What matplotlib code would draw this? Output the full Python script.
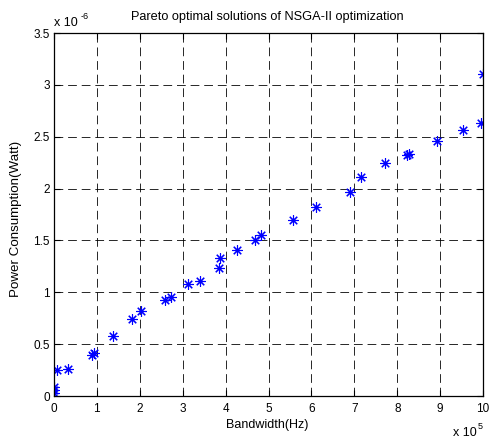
import numpy as np
import matplotlib.pyplot as plt
from matplotlib.ticker import FuncFormatter

plt.rcParams['font.family'] = ['Liberation Sans', 'DejaVu Sans']

# Pareto front: bandwidth (x 1e5 Hz) vs power (x 1e-6 W)
bandwidth = [0.0, 0.0, 0.0, 0.08, 0.33, 0.89, 0.94, 1.38, 1.83, 2.03,
             2.59, 2.73, 3.12, 3.40, 3.84, 3.87, 4.27, 4.69, 4.82, 5.56,
             6.10, 6.89, 7.16, 7.72, 8.22, 8.27, 8.93, 9.53, 9.95, 10.0]
power = [0.03, 0.06, 0.09, 0.25, 0.26, 0.395, 0.41, 0.58, 0.74, 0.82,
         0.925, 0.957, 1.08, 1.11, 1.23, 1.33, 1.41, 1.50, 1.555, 1.70,
         1.82, 1.97, 2.11, 2.25, 2.32, 2.33, 2.46, 2.56, 2.63, 3.10]

x_ticks = np.arange(0, 11, 1)
y_ticks = np.arange(0, 3.51, 0.5)

fig = plt.figure(figsize=(4.9, 4.4), dpi=100)
ax = fig.add_axes([0.110, 0.100, 0.876, 0.825])

# asterisk markers (8 spokes)
ax.plot(bandwidth, power, linestyle='none', marker=(8, 2, 0), color='#0000ff',
        markersize=7.5, markeredgewidth=0.8)

ax.set_xlim(0, 10)
ax.set_ylim(0, 3.5)
ax.set_xticks(x_ticks)
ax.set_yticks(y_ticks)
fmt = FuncFormatter(lambda v, p: '%g' % v)
ax.xaxis.set_major_formatter(fmt)
ax.yaxis.set_major_formatter(fmt)
ax.tick_params(direction='in', length=4, width=0.8, labelsize=8.5,
               top=True, right=True)
ax.tick_params(axis='x', pad=5)
ax.tick_params(axis='y', pad=3)
ax.grid(True, color='black', linestyle=(0, (9, 5)), linewidth=0.7, alpha=0.85)
for s in ax.spines.values():
    s.set_linewidth(0.9)

ax.text(0.498, 1.036, 'Pareto optimal solutions of NSGA-II optimization',
        transform=ax.transAxes, fontsize=9.2, ha='center', va='baseline')
ax.text(0.498, -0.088, 'Bandwidth(Hz)', transform=ax.transAxes, fontsize=9,
        ha='center', va='baseline')
ax.text(-0.088, 0.488, 'Power Consumption(Watt)', transform=ax.transAxes,
        fontsize=9.6, rotation=90, ha='center', va='center')

# axis multipliers, exponent drawn as a small raised text
ax.annotate('x 10', xy=(0.0, 1.019), xycoords='axes fraction', fontsize=9,
            ha='left', va='baseline')
ax.annotate('-6', xy=(0.0, 1.019), xycoords='axes fraction',
            xytext=(19, 5), textcoords='offset points', fontsize=6.5,
            ha='left', va='baseline')
ax.annotate('x 10', xy=(0.985, -0.11), xycoords='axes fraction', fontsize=9,
            ha='right', va='baseline')
ax.annotate('5', xy=(0.985, -0.11), xycoords='axes fraction',
            xytext=(0.5, 5), textcoords='offset points', fontsize=6.5,
            ha='left', va='baseline')

fig.savefig('out.png', dpi=100)
